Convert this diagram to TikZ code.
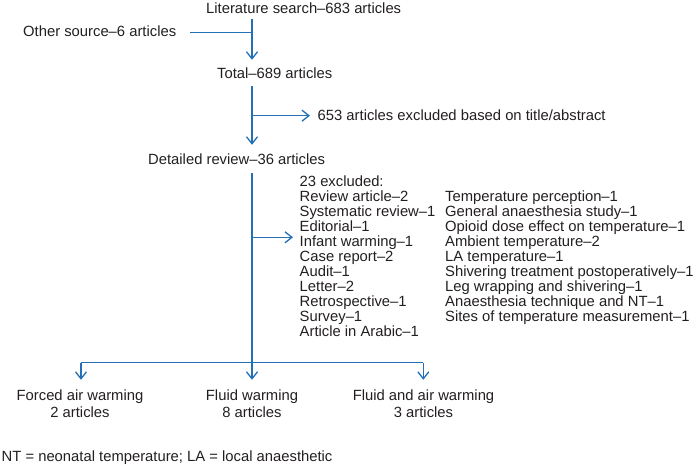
\documentclass[tikz,border=0pt]{standalone}
\usepackage{fontspec}
\setmainfont{Liberation Sans}
\usetikzlibrary{arrows.meta}
\definecolor{flowblue}{RGB}{35,112,182}
\definecolor{ink}{RGB}{35,31,32}
\begin{document}
\begin{tikzpicture}[x=1pt,y=-1pt,
  lbl/.style={font=\fontsize{14.8}{15}\selectfont, text=ink, inner sep=2pt, text height=11pt, text depth=3.5pt},
  arr/.style={draw=flowblue, line width=1.4pt, -{Straight Barb[length=7pt,width=11pt,line width=1.3pt]}},
  ln/.style={draw=flowblue, line width=1.4pt}]
\useasboundingbox (0,0) rectangle (695,465);
% main column
\node[lbl,anchor=base west] (lit) at (204,13.5) {Literature search–683 articles};
\node[lbl,anchor=base west] (other) at (21,36.7) {Other source–6 articles};
\node[lbl,anchor=base west] (total) at (215,78.3) {Total–689 articles};
\node[lbl,anchor=base west] (excl) at (315.5,120.7) {653 articles excluded based on title/abstract};
\node[lbl,anchor=base west] (detail) at (146,164.3) {Detailed review–36 articles};
% exclusion lists
\foreach [count=\i from 0] \t in {23 excluded:, Review article–2, Systematic review–1, Editorial–1, Infant warming–1, Case report–2, Audit–1, Letter–2, Retrospective–1, Survey–1, Article in Arabic–1}
  \node[lbl,anchor=base west] (c1-\i) at ({297.5},{186.7+15*\i}) {\t};
\foreach [count=\i from 1] \t in {Temperature perception–1, General anaesthesia study–1, Opioid dose effect on temperature–1, Ambient temperature–2, LA temperature–1, Shivering treatment postoperatively–1, Leg wrapping and shivering–1, Anaesthesia technique and NT–1, Sites of temperature measurement–1}
  \node[lbl,anchor=base west] (c2-\i) at ({443},{186.7+15*\i}) {\t};
% outcomes
\node[lbl,anchor=base] (forced) at (80,400) {Forced air warming};
\node[lbl,anchor=base] (forcedn) at (80,417.7) {2 articles};
\node[lbl,anchor=base] (fluid) at (252,400) {Fluid warming};
\node[lbl,anchor=base] (fluidn) at (252,417.7) {8 articles};
\node[lbl,anchor=base] (both) at (423.5,400) {Fluid and air warming};
\node[lbl,anchor=base] (bothn) at (423.5,417.7) {3 articles};
\node[lbl,anchor=base west] (note) at (-0.5,461.7) {NT = neonatal temperature; LA = local anaesthetic};
% junctions
\coordinate (j1) at (252,32.3);
\coordinate (j2) at (252,115.7);
\coordinate (j3) at (252,237.3);
\coordinate (j4) at (252,362.7);
\coordinate (b1) at (81,362.7);
\coordinate (b3) at (423.3,362.7);
% connectors
\draw[arr, shorten >=5.3pt] (lit.south -| j1) -- (total.north -| j1);
\draw[ln, shorten <=12pt] (other.east |- j1) -- (j1);
\draw[arr, shorten <=2pt, shorten >=6.3pt] (total.south -| j2) -- (detail.north -| j2);
\draw[arr, shorten >=5.5pt] (j2) -- (j2 -| excl.west);
\draw[ln, shorten <=2.9pt] (detail.south -| j4) -- (j4);
\draw[arr, shorten >=4.5pt] (j3) -- (j3 -| c1-4.west);
\draw[ln] (b1) -- (b3);
\draw[arr, shorten >=7pt] (b1) -- (forced.north -| b1);
\draw[arr, shorten >=7pt] (j4) -- (fluid.north -| j4);
\draw[arr, shorten >=7pt] (b3) -- (both.north -| b3);
\end{tikzpicture}
\end{document}
